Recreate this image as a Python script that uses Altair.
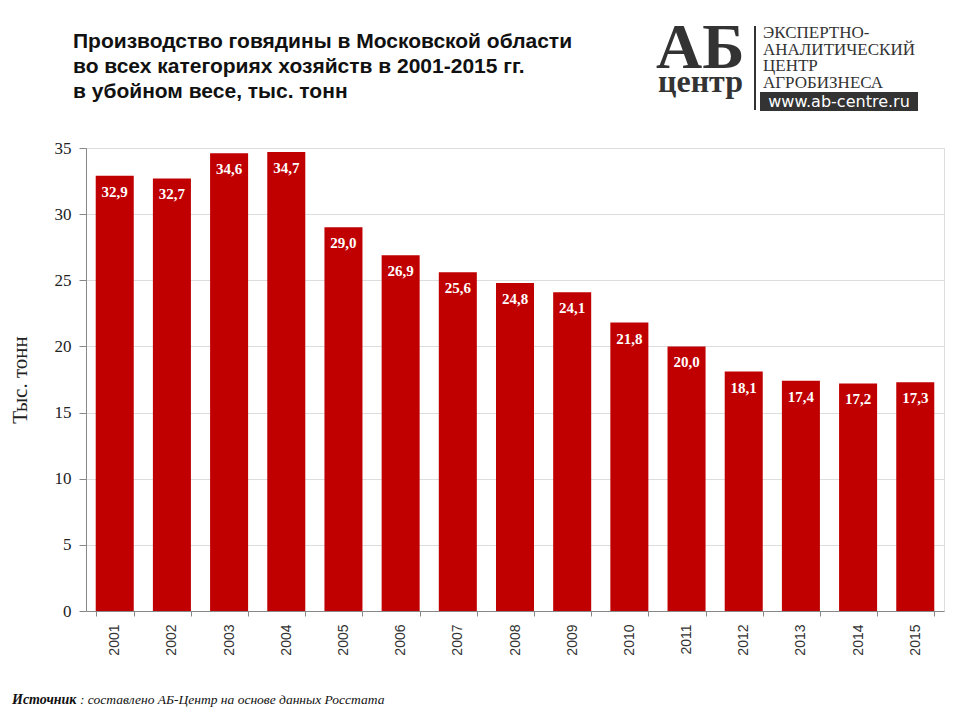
import altair as alt
import pandas as pd

years = [str(y) for y in range(2001, 2016)]
values = [32.9, 32.7, 34.6, 34.7, 29.0, 26.9, 25.6, 24.8, 24.1, 21.8, 20.0, 18.1, 17.4, 17.2, 17.3]
labels = [f"{v:.1f}".replace(".", ",") for v in values]

title_lines = [
    "Производство говядины в Московской области",
    "во всех категориях хозяйств в 2001-2015 гг.",
    "в убойном весе, тыс. тонн",
]
logo_lines = ["ЭКСПЕРТНО-", "АНАЛИТИЧЕСКИЙ", "ЦЕНТР", "АГРОБИЗНЕСА"]

df = pd.DataFrame({"year": years, "value": values, "label": labels})

W, H = 858, 463
RED = "#C00000"

x = alt.X("year:N", sort=years, title=None,
          scale=alt.Scale(paddingInner=0.335, paddingOuter=0.17),
          axis=alt.Axis(labelAngle=-90, labelFont="Liberation Sans", labelFontSize=14,
                        labelColor="#333333", tickBand="extent", tickColor="#888888",
                        domainColor="#888888", tickSize=5, labelPadding=8, grid=False,
                        labelBaseline="middle", labelAlign="right"))
y = alt.Y("value:Q", title="Тыс. тонн",
          scale=alt.Scale(domain=[0, 35], nice=False),
          axis=alt.Axis(values=list(range(0, 36, 5)), labelFont="Liberation Serif",
                        labelFontSize=17, labelColor="#222222", titleFont="Liberation Serif",
                        titleFontSize=21, titleFontWeight="normal", titleColor="#222222",
                        titlePadding=24, tickColor="#888888", domainColor="#888888",
                        tickSize=7, labelPadding=8, gridColor="#DDDDDD"))

base = alt.Chart(df)
bars = base.mark_bar(color=RED).encode(x=x, y=y)
text = base.mark_text(color="white", font="Liberation Serif", fontWeight="bold",
                      fontSize=15, baseline="top", dy=9).encode(x=x, y="value:Q", text="label:N")

one = pd.DataFrame({"a": [0]})
oc = alt.Chart(one)

title = oc.mark_text(align="left", baseline="middle", font="Liberation Sans",
                     fontWeight="bold", fontSize=21, color="#111111", lineHeight=25).encode(
    x=alt.value(-13), y=alt.value(-106), text=alt.value(title_lines))

# logo
ab = oc.mark_text(align="left", baseline="alphabetic", font="Liberation Serif",
                  fontWeight="bold", fontSize=64, color="#333333").encode(
    x=alt.value(570), y=alt.value(-80), text=alt.value("АБ"))
centr = oc.mark_text(align="left", baseline="alphabetic", font="Liberation Serif",
                     fontWeight="bold", fontSize=32, color="#333333").encode(
    x=alt.value(572), y=alt.value(-56), text=alt.value("центр"))
vline = oc.mark_rule(color="#333333", strokeWidth=2).encode(
    x=alt.value(669), y=alt.value(-122), y2=alt.value(-38))
logo_txt = oc.mark_text(align="left", baseline="middle", font="Liberation Serif",
                        fontSize=17, color="#333333", lineHeight=16.5).encode(
    x=alt.value(677), y=alt.value(-115), text=alt.value(logo_lines))
box = oc.mark_rect(color="#333333").encode(
    x=alt.value(674), x2=alt.value(832), y=alt.value(-56), y2=alt.value(-37))
url = oc.mark_text(align="center", baseline="middle", font="DejaVu Sans",
                   fontSize=16, color="white").encode(
    x=alt.value(753), y=alt.value(-46), text=alt.value("www.ab-centre.ru"))

src1 = oc.mark_text(align="left", baseline="middle", font="Liberation Serif",
                    fontWeight="bold", fontStyle="italic", fontSize=14, color="#111111").encode(
    x=alt.value(-74), y=alt.value(552), text=alt.value("Источник"))
src2 = oc.mark_text(align="left", baseline="middle", font="Liberation Serif",
                    fontStyle="italic", fontSize=13.5, color="#111111").encode(
    x=alt.value(-6), y=alt.value(552),
    text=alt.value(":  составлено АБ-Центр на основе данных Росстата"))

chart = alt.layer(bars, text, title, ab, centr, vline, logo_txt, box, url, src1, src2).properties(
    width=W, height=H,
    autosize=alt.AutoSizeParams(type="none"),
    padding={"left": 78, "top": 140, "right": 8, "bottom": 100},
).configure_view(stroke=None).configure(background="white")

chart.save("out.html", embed_options={"renderer": "svg", "actions": False})
